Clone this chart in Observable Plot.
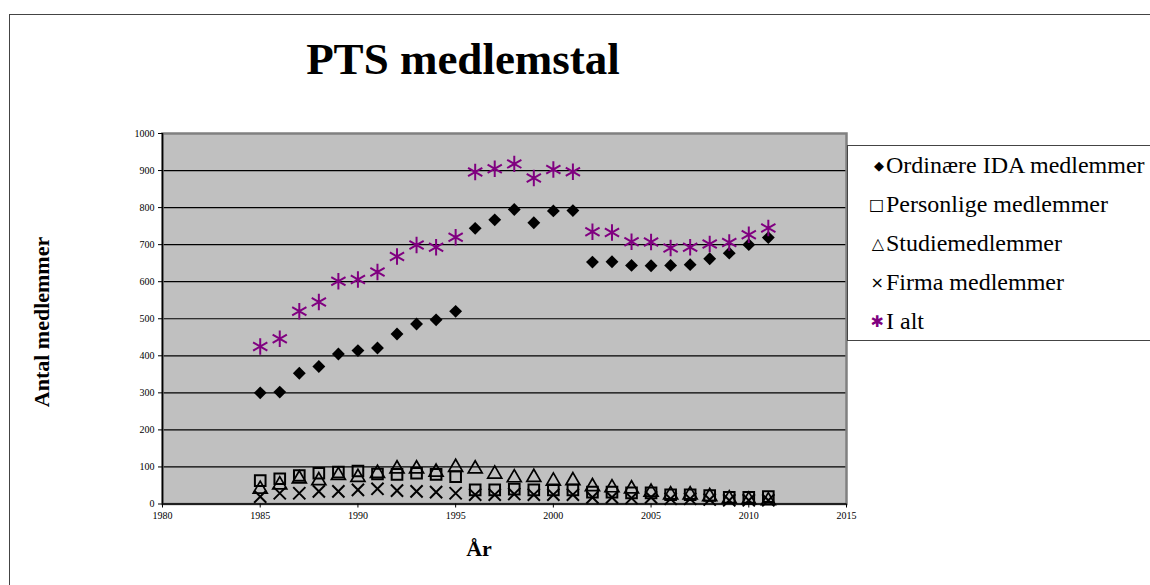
<!DOCTYPE html>
<html><head><meta charset="utf-8">
<script src="https://cdn.jsdelivr.net/npm/d3@7"></script>
<script src="https://cdn.jsdelivr.net/npm/@observablehq/plot@0.6"></script>
<style>
body{margin:0;background:#fff;}
#wrap{position:relative;width:1150px;height:585px;overflow:hidden;font-family:"Liberation Serif",serif;color:#000;}
#frame{position:absolute;left:9px;top:14px;width:1200px;height:600px;border-left:1px solid #444;border-top:1px solid #444;}
#chart{position:absolute;left:0;top:0;}
#title{position:absolute;left:0;width:926px;top:37px;text-align:center;font-weight:bold;font-size:45px;line-height:45px;}
#ylab{position:absolute;left:42px;top:322px;transform:translate(-50%,-50%) rotate(-90deg);font-weight:bold;font-size:22px;white-space:nowrap;}
#xlab{position:absolute;left:479px;top:549px;transform:translate(-50%,-50%);font-weight:bold;font-size:22px;}
#legend{position:absolute;left:847px;top:145px;width:320px;height:194px;border:1px solid #444;background:#fff;}
#legend div{height:39px;line-height:39px;font-size:24px;white-space:nowrap;}
#legend .m{display:inline-block;width:36px;text-align:right;padding-right:2px;font-family:"DejaVu Sans",sans-serif;vertical-align:top;}
</style></head>
<body><div id="wrap">
<div id="frame"></div>
<div id="chart"></div>
<div id="title">PTS medlemstal</div>
<div id="ylab">Antal medlemmer</div>
<div id="xlab">År</div>
<div id="legend"></div>
</div>
<script>
const years = [1985,1986,1987,1988,1989,1990,1991,1992,1993,1994,1995,1996,1997,1998,1999,2000,2001,2002,2003,2004,2005,2006,2007,2008,2009,2010,2011];
const ordinaere = [300,302,353,371,405,414,421,459,486,497,520,744,767,795,759,791,792,653,654,644,643,644,646,662,677,700,719];
const personlige = [63,68,77,83,86,89,81,80,83,80,74,38,38,40,38,38,38,32,32,30,30,25,25,23,18,18,20];
const studie = [40,52,68,63,77,72,83,95,95,86,99,95,81,71,72,62,63,47,44,41,32,25,25,20,14,11,9];
const firma = [20,29,29,34,34,38,41,36,34,32,29,25,25,27,25,25,25,18,18,16,18,14,14,12,10,10,10];
const iAlt = [425,446,520,545,601,606,626,668,699,693,720,896,905,918,880,903,897,735,733,708,707,691,693,702,706,727,745];
const xTicks = [1980,1985,1990,1995,2000,2005,2010,2015];
const yTicks = [0,100,200,300,400,500,600,700,800,900,1000];
const seriesNames = ["Ordinære IDA medlemmer","Personlige medlemmer","Studiemedlemmer","Firma medlemmer","I alt"];
const legendGlyphs = ["◆","□","△","×","✱"];
const legendColors = ["#000","#000","#000","#000","#800080"];

const rows = v => years.map((y,i)=>({year:y, value:v[i]}));

const plot = Plot.plot({
  width:1150, height:585,
  marginTop:133, marginLeft:162, marginRight:304, marginBottom:81.5,
  style:{fontFamily:"Liberation Serif, serif", fontSize:"10px", background:"transparent", color:"#000"},
  x:{domain:[1980,2015]},
  y:{domain:[0,1000]},
  marks:[
    Plot.frame({fill:"#c0c0c0", stroke:null}),
    Plot.ruleY(yTicks.filter(d=>d>0 && d<1000), {stroke:"#000", strokeWidth:1.2}),
    Plot.frame({stroke:"#808080", strokeWidth:2.5, fill:null}),
    Plot.ruleX([1980], {stroke:"#000", strokeWidth:1.5}),
    Plot.ruleY([0], {stroke:"#000", strokeWidth:1.5}),
    Plot.axisY({ticks:yTicks, tickSize:4, tickPadding:4, tickFormat:d=>String(d), label:null, fontSize:10}),
    Plot.axisX({ticks:xTicks, tickSize:4, tickPadding:4, tickFormat:d=>String(d), label:null, fontSize:10}),
    Plot.dot(rows(firma), {x:"year", y:"value", symbol:"times", r:5.6, stroke:"#000", strokeWidth:2}),
    Plot.dot(rows(studie), {x:"year", y:"value", symbol:"triangle", r:5.2, stroke:"#000", strokeWidth:1.7, fill:"none"}),
    Plot.dot(rows(personlige), {x:"year", y:"value", symbol:"square", r:6, stroke:"#000", strokeWidth:2, fill:"none"}),
    Plot.dot(rows(ordinaere), {x:"year", y:"value", symbol:"diamond2", r:5.8, fill:"#000", stroke:null}),
    Plot.dot(rows(iAlt), {x:"year", y:"value", symbol:"asterisk", r:7.8, stroke:"#800080", strokeWidth:2})
  ]
});
document.getElementById("chart").appendChild(plot);

const lg = document.getElementById("legend");
seriesNames.forEach((n,i)=>{
  const d = document.createElement("div");
  const m = document.createElement("span");
  m.className="m"; m.textContent=legendGlyphs[i]; m.style.color=legendColors[i];
  m.style.fontSize = i===0 ? "13px" : "16px";
  d.appendChild(m);
  d.appendChild(document.createTextNode(n));
  lg.appendChild(d);
});
</script>
</body></html>
